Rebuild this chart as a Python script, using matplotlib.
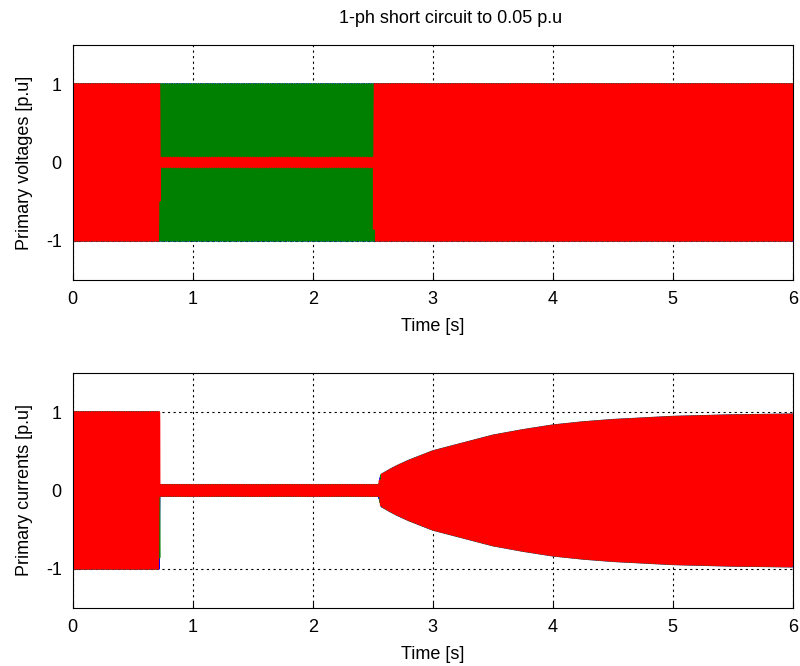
"""
Three-phase primary voltages and currents for a 1-ph short circuit to 0.05 p.u.
Waveforms are 50 Hz phases scaled by amplitude envelopes read off the figure.
"""
import numpy as np
import matplotlib; matplotlib.use("Agg"); import matplotlib.pyplot as plt

plt.rcParams["font.family"] = ["Liberation Sans", "DejaVu Sans"]
plt.rcParams["axes.unicode_minus"] = False

F_HZ = 50.0
PHASE_DEG = [0.0, -120.0, 120.0]                 # blue, green, red
COLORS = ["#0000ff", "#008000", "#ff0000"]

# voltage amplitude envelope (time [s], amplitude [p.u]) per phase
V_T = [0.0, 0.725, 0.725, 2.51, 2.51, 6.0]
V_AMP_BLUE = [1.0, 1.0, 1.0, 1.0, 1.0, 1.0]
V_AMP_GREEN = [1.0, 1.0, 1.0, 1.0, 1.0, 1.0]
V_AMP_RED = [1.0, 1.0, 0.06, 0.06, 1.0, 1.0]

# current amplitude envelope (same for all phases)
I_T = [0.0, 0.72, 0.72, 2.55, 2.57, 2.65, 2.7, 2.8, 3.0, 3.25, 3.5, 3.75,
       4.0, 4.25, 4.5, 4.75, 5.0, 5.25, 5.5, 5.75, 6.0]
I_AMP = [1.0, 1.0, 0.07, 0.07, 0.2, 0.27, 0.31, 0.38, 0.5, 0.6, 0.7, 0.77,
         0.83, 0.87, 0.9, 0.92, 0.94, 0.95, 0.96, 0.965, 0.97]

TITLE = "1-ph short circuit to 0.05 p.u"
YLABELS = ["Primary voltages [p.u]", "Primary currents [p.u]"]

t = np.linspace(0, 6, 48013)


def wave(env_t, env_a, ph):
    amp = np.interp(t, env_t, env_a)
    return amp * np.sin(2 * np.pi * F_HZ * t + np.deg2rad(ph))


volts = [wave(V_T, a, p) for a, p in zip([V_AMP_BLUE, V_AMP_GREEN, V_AMP_RED], PHASE_DEG)]
amps = [wave(I_T, I_AMP, p) for p in PHASE_DEG]

fig = plt.figure(figsize=(8, 6.66), dpi=100)
ax1 = fig.add_axes([0.091, 0.5796, 0.9, 0.3529])
ax2 = fig.add_axes([0.091, 0.0871, 0.9, 0.3529])

for ax, series, ylab in [(ax1, volts, YLABELS[0]), (ax2, amps, YLABELS[1])]:
    for y, c in zip(series, COLORS):
        ax.plot(t, y, color=c, lw=1.6)
    ax.set_xlim(0, 6); ax.set_ylim(-1.5, 1.5)
    ax.set_xticks(range(7)); ax.set_yticks([-1, 0, 1])
    ax.grid(True, color="black", linestyle=(0, (2, 3)), linewidth=0.8)
    ax.tick_params(direction="in", labelsize=13, length=4, pad=8)
    ax.set_xlabel("Time [s]", fontsize=13, labelpad=7)
    ax.set_ylabel(ylab, fontsize=13, labelpad=9)
    for s in ax.spines.values(): s.set_linewidth(0.8)
ax1.set_title(TITLE, fontsize=13, pad=16, x=0.525)

fig.savefig("out.png", dpi=100)
